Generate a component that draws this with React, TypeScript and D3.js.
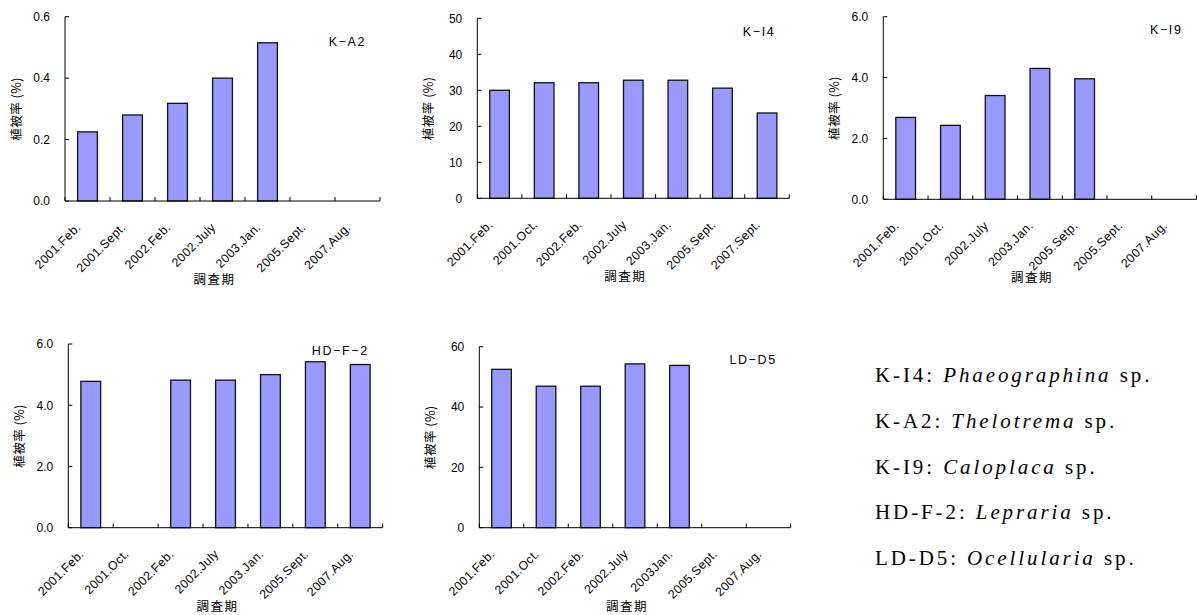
import React from "react";
import * as d3 from "d3";

// Survey periods per site
const catsKA2 = ["2001.Feb.", "2001.Sept.", "2002.Feb.", "2002.July", "2003.Jan.", "2005.Sept.", "2007.Aug."];
const catsKI4 = ["2001.Feb.", "2001.Oct.", "2002.Feb.", "2002.July", "2003.Jan.", "2005.Sept.", "2007.Sept."];
const catsKI9 = ["2001.Feb.", "2001.Oct.", "2002.July", "2003.Jan.", "2005.Setp.", "2005.Sept.", "2007.Aug."];
const catsHDF2 = ["2001.Feb.", "2001.Oct.", "2002.Feb.", "2002.July", "2003.Jan.", "2005.Sept.", "2007.Aug."];
const catsLDD5 = ["2001.Feb.", "2001.Oct.", "2002.Feb.", "2002.July", "2003Jan.", "2005.Sept.", "2007.Aug."];

// Coverage (%) per period; null = not surveyed / no record
const valsKA2: (number | null)[] = [0.225, 0.28, 0.318, 0.40, 0.515, null, null];
const valsKI4: (number | null)[] = [30.0, 32.1, 32.1, 32.8, 32.8, 30.6, 23.7];
const valsKI9: (number | null)[] = [2.69, 2.43, 3.41, 4.30, 3.96, null, null];
const valsHDF2: (number | null)[] = [4.78, null, 4.82, 4.82, 5.0, 5.42, 5.33];
const valsLDD5: (number | null)[] = [52.5, 46.9, 46.9, 54.3, 53.8, null, null];

// Y-axis ranges
const maxKA2 = 0.6, stepKA2 = 0.2;
const maxKI4 = 50, stepKI4 = 10;
const maxKI9 = 6, stepKI9 = 2;
const maxHDF2 = 6, stepHDF2 = 2;
const maxLDD5 = 60, stepLDD5 = 20;

// Species key
const legendCodes = ["K-I4", "K-A2", "K-I9", "HD-F-2", "LD-D5"];
const legendSpecies = ["Phaeographina", "Thelotrema", "Caloplaca", "Lepraria", "Ocellularia"];

const Y_TITLE = "植被率 (%)";
const X_TITLE = "調査期";

type PanelCfg = {
  name: string;
  cats: string[];
  vals: (number | null)[];
  max: number;
  step: number;
  fmt: string;
  x0: number;
  x1: number;
  yTop: number;
  yBot: number;
  titleY: number;
};

const panels: PanelCfg[] = [
  { name: "K-A2", cats: catsKA2, vals: valsKA2, max: maxKA2, step: stepKA2, fmt: ".1f", x0: 65, x1: 380, yTop: 16.7, yBot: 201, titleY: 46 },
  { name: "K-I4", cats: catsKI4, vals: valsKI4, max: maxKI4, step: stepKI4, fmt: "d", x0: 477.3, x1: 789.3, yTop: 18.3, yBot: 198.3, titleY: 36 },
  { name: "K-I9", cats: catsKI9, vals: valsKI9, max: maxKI9, step: stepKI9, fmt: ".1f", x0: 883.3, x1: 1196.5, yTop: 16.7, yBot: 199.3, titleY: 33.5 },
  { name: "HD-F-2", cats: catsHDF2, vals: valsHDF2, max: maxHDF2, step: stepHDF2, fmt: ".1f", x0: 68.3, x1: 382.7, yTop: 344, yBot: 527.7, titleY: 354.5 },
  { name: "LD-D5", cats: catsLDD5, vals: valsLDD5, max: maxLDD5, step: stepLDD5, fmt: "d", x0: 479.3, x1: 790.7, yTop: 346.7, yBot: 527.7, titleY: 363.5 },
];

const SANS = "'Liberation Sans', Arial, 'Noto Sans CJK JP', sans-serif";
const CJK = "'Noto Sans CJK JP', sans-serif";
const SERIF = "'Liberation Serif', 'Times New Roman', serif";

function Panel({ p }: { p: PanelCfg }) {
  const x = d3.scaleBand<string>().domain(p.cats).range([p.x0, p.x1]).padding(0);
  const y = d3.scaleLinear().domain([0, p.max]).range([p.yBot, p.yTop]);
  const bw = x.bandwidth();
  const barW = bw * 0.44;
  const ticks = d3.range(0, p.max + p.step / 2, p.step);
  const fmt = d3.format(p.fmt);
  const boundaries = p.cats.map((c) => x(c) as number).concat([p.x1]);
  const midX = (p.x0 + p.x1) / 2 - 8;
  const midY = (p.yTop + p.yBot) / 2;

  return (
    <g>
      {/* bars */}
      {p.cats.map((c, i) => {
        const v = p.vals[i];
        if (v == null) return null;
        const cx = (x(c) as number) + bw / 2;
        return (
          <rect
            key={c}
            x={cx - barW / 2}
            y={y(v)}
            width={barW}
            height={p.yBot - y(v)}
            fill="#9999ff"
            stroke="#111"
            strokeWidth={1.3}
          />
        );
      })}
      {/* y axis */}
      <line x1={p.x0} x2={p.x0} y1={p.yTop} y2={p.yBot} stroke="#000" strokeWidth={1} />
      {ticks.map((t) => (
        <g key={t}>
          <line x1={p.x0} x2={p.x0 + 4} y1={y(t)} y2={y(t)} stroke="#000" strokeWidth={1} />
          <text x={p.x0 - 15} y={y(t)} dy="0.36em" textAnchor="end" fontFamily={SANS} fontSize={12} fill="#000">
            {fmt(t)}
          </text>
        </g>
      ))}
      {/* x axis */}
      <line x1={p.x0} x2={p.x1} y1={p.yBot} y2={p.yBot} stroke="#000" strokeWidth={1} />
      {boundaries.map((bx, i) => (
        <line key={i} x1={bx} x2={bx} y1={p.yBot} y2={p.yBot - 4} stroke="#000" strokeWidth={1} />
      ))}
      {p.cats.map((c) => {
        const ax = (x(c) as number) + bw / 2 - 6;
        const ay = p.yBot + 27;
        return (
          <text
            key={c}
            transform={`translate(${ax},${ay}) rotate(-45)`}
            textAnchor="end"
            fontFamily={SANS}
            fontSize={12.3}
            letterSpacing={0.4}
            fill="#000"
          >
            {c}
          </text>
        );
      })}
      {/* titles */}
      <text x={p.x1 - 14} y={p.titleY} textAnchor="end" fontFamily={SANS} fontSize={12.5} letterSpacing={1.6} fill="#000">
        {p.name.replace(/-/g, "\u2212")}
      </text>
      <text
        transform={`translate(${p.x0 - 44},${midY}) rotate(-90)`}
        textAnchor="middle"
        fontFamily={CJK}
        fontSize={12.5}
        letterSpacing={0.5}
        fill="#000"
      >
        {Y_TITLE}
      </text>
      <text x={midX} y={p.yBot + 83} textAnchor="middle" fontFamily={CJK} fontSize={12.5} letterSpacing={1.5} fill="#000">
        {X_TITLE}
      </text>
    </g>
  );
}

export default function App() {
  const W = 1197;
  const H = 615;
  return (
    <svg
      width={W}
      height={H}
      style={{ position: "absolute", left: 0, top: 0, background: "#fff" }}
    >
      <rect width={W} height={H} fill="#fff" />
      {panels.map((p) => (
        <Panel key={p.name} p={p} />
      ))}
      {legendCodes.map((code, i) => (
        <text key={code} x={875} y={381.7 + i * 45.9} fontFamily={SERIF} fontSize={21} letterSpacing={2.9} fill="#000">
          {code}: <tspan fontStyle="italic">{legendSpecies[i]}</tspan> sp.
        </text>
      ))}
    </svg>
  );
}
